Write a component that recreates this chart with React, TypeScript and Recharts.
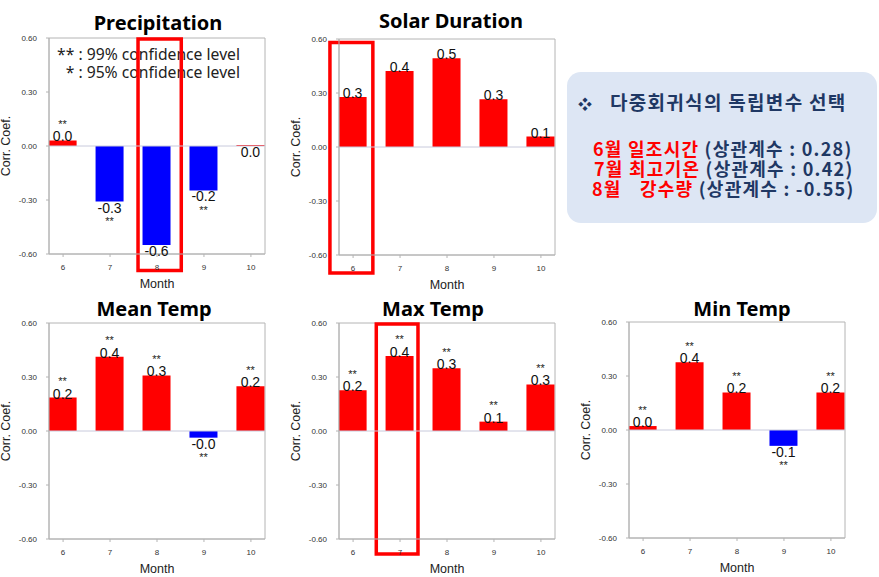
import React from "react";
import {
  BarChart,
  Bar,
  XAxis,
  YAxis,
  Cell,
  LabelList,
  ReferenceLine,
  ReferenceArea,
} from "recharts";

const months = [6, 7, 8, 9, 10];
const yTicks = [-0.6, -0.3, 0, 0.3, 0.6];

const precipitation = [0.031, -0.309, -0.55, -0.247, 0.006];
const precipitationSig = ["**", "**", "", "**", ""];
const solarDuration = [0.278, 0.422, 0.493, 0.265, 0.058];
const solarDurationSig = ["", "", "", "", ""];
const meanTemp = [0.186, 0.412, 0.309, -0.037, 0.248];
const meanTempSig = ["**", "**", "**", "**", "**"];
const maxTemp = [0.227, 0.417, 0.348, 0.052, 0.259];
const maxTempSig = ["**", "**", "**", "**", "**"];
const minTemp = [0.022, 0.376, 0.209, -0.088, 0.209];
const minTempSig = ["**", "**", "**", "**", "**"];

const RED = "#ff0000";
const BLUE = "#0000ff";
const NAVY = "#1f3864";

function fmt(v: number) {
  const r = (Math.round(Math.abs(v) * 10) / 10).toFixed(1);
  return v < 0 ? "-" + r : r;
}

function renderValueLabel(p: any, sig: string[]) {
  const vb = p.viewBox ?? p;
  const x = Number(vb.x ?? p.x);
  const y = Number(vb.y ?? p.y);
  const w = Number(vb.width ?? p.width);
  const h = Number(vb.height ?? p.height);
  const v = Number(p.value);
  const cx = x + w / 2;
  const top = Math.min(y, y + h);
  const bottom = Math.max(y, y + h);
  const below = v < 0.01;
  const s = sig[p.index] || "";
  return (
    <g key={"lbl" + p.index}>
      <text
        x={cx}
        y={below ? bottom + 11 : top + 1}
        textAnchor="middle"
        fontSize={14}
        fill="#111"
      >
        {fmt(v)}
      </text>
      {s && (
        <text
          x={cx}
          y={below ? bottom + 23.5 : top - 12.5}
          textAnchor="middle"
          fontSize={11}
          fill="#222"
        >
          {s}
        </text>
      )}
    </g>
  );
}

type Box = { x1: number; x2: number; y1: number; y2: number };

function Panel({
  left,
  top,
  values,
  sig,
  highlight,
}: {
  left: number;
  top: number;
  values: number[];
  sig: string[];
  highlight?: Box;
}) {
  const data = months.map((m, i) => ({ month: m, value: values[i] }));
  return (
    <div style={{ position: "absolute", left, top }}>
      <BarChart
        width={290}
        height={295}
        data={data}
        margin={{ top: 38, right: 25, bottom: 5, left: 0 }}
      >
        <XAxis
          type="number"
          dataKey="month"
          domain={[5.7, 10.3]}
          allowDataOverflow
          ticks={months}
          interval={0}
          tick={{ fontSize: 8, fill: "#333" }}
          tickSize={3}
          tickMargin={7}
          stroke="#b4b4b4"
          height={36}
          label={{
            value: "Month",
            position: "insideBottom",
            offset: 2,
            fontSize: 12.5,
            fill: "#222",
          }}
        />
        <YAxis
          type="number"
          domain={[-0.6, 0.6]}
          allowDataOverflow
          ticks={yTicks}
          interval={0}
          tickFormatter={(v: number) => v.toFixed(2)}
          tick={{ fontSize: 8, fill: "#333" }}
          tickSize={3}
          tickMargin={9}
          stroke="#b4b4b4"
          width={49}
          label={{
            value: "Corr. Coef.",
            angle: -90,
            position: "insideLeft",
            offset: 6,
            fontSize: 12.5,
            fill: "#222",
            style: { textAnchor: "middle" },
          }}
        />
        <ReferenceArea
          x1={5.7}
          x2={10.3}
          y1={-0.6}
          y2={0.6}
          fill="none"
          stroke="#b4b4b4"
          fillOpacity={0}
        />
        <ReferenceLine y={0} stroke="#c8cadc" />
        <Bar dataKey="value" barSize={28} isAnimationActive={false}>
          {data.map((d, i) => (
            <Cell key={i} fill={d.value >= 0 ? RED : BLUE} />
          ))}
          <LabelList
            dataKey="value"
            content={(p: any) => renderValueLabel(p, sig)}
          />
        </Bar>
        {highlight && (
          <ReferenceArea
            x1={highlight.x1}
            x2={highlight.x2}
            y1={highlight.y1}
            y2={highlight.y2}
            ifOverflow="visible"
            fill="none"
            fillOpacity={0}
            stroke={RED}
            strokeWidth={3.5}
          />
        )}
      </BarChart>
    </div>
  );
}

export default function App() {
  const titleStyle = {
    fontFamily: "'Noto Sans', sans-serif",
    fontWeight: 700,
    fontSize: 20,
  } as const;
  const kr = "'Noto Sans CJK KR', sans-serif";
  return (
    <div
      style={{
        position: "absolute",
        left: 0,
        top: 0,
        width: 879,
        height: 577,
        background: "#fff",
        fontFamily: "'Liberation Sans', Arial, sans-serif",
        overflow: "hidden",
      }}
    >
      <svg
        width={879}
        height={577}
        style={{ position: "absolute", left: 0, top: 0 }}
      >
        <text x={158} y={30} textAnchor="middle" style={titleStyle}>
          Precipitation
        </text>
        <text x={451} y={28} textAnchor="middle" style={titleStyle}>
          Solar Duration
        </text>
        <text x={154} y={316} textAnchor="middle" style={titleStyle}>
          Mean Temp
        </text>
        <text x={433} y={316} textAnchor="middle" style={titleStyle}>
          Max Temp
        </text>
        <text x={742} y={316} textAnchor="middle" style={titleStyle}>
          Min Temp
        </text>
        <g fontFamily="'Noto Sans', sans-serif" fontSize={15.7} fill="#222">
          <text x={240} y={60} textAnchor="end">
            ** : 99% confidence level
          </text>
          <text x={240} y={78} textAnchor="end">
            * : 95% confidence level
          </text>
        </g>
        <rect x={567} y={72} width={310} height={151} rx={14} fill="#dde6f4" />
        <g fontFamily={kr} fontWeight={700}>
          <text x={585} y={109} textAnchor="middle" fontSize={14} fill={NAVY}>
            ❖
          </text>
          <text
            x={610}
            y={110}
            fontSize={19}
            letterSpacing={1.3}
            fill={NAVY}
          >
            다중회귀식의 독립변수 선택
          </text>
          <text x={593} y={156} fontSize={18} letterSpacing={1.25}>
            <tspan fill={RED}>6월 일조시간</tspan>
            <tspan fill={NAVY}> (상관계수 : 0.28)</tspan>
          </text>
          <text x={594} y={176} fontSize={18} letterSpacing={1.25}>
            <tspan fill={RED}>7월 최고기온</tspan>
            <tspan fill={NAVY}> (상관계수 : 0.42)</tspan>
          </text>
          <text x={592} y={196} fontSize={18} letterSpacing={1.25}>
            <tspan fill={RED}>8월</tspan>
            <tspan x={640} fill={RED}>
              강수량
            </tspan>
            <tspan fill={NAVY}> (상관계수 : -0.55)</tspan>
          </text>
        </g>
      </svg>
      <Panel
        left={0}
        top={0}
        values={precipitation}
        sig={precipitationSig}
        highlight={{ x1: 7.596, x2: 8.517, y1: 0.594, y2: -0.692 }}
      />
      <Panel
        left={290}
        top={1}
        values={solarDuration}
        sig={solarDurationSig}
        highlight={{ x1: 5.507, x2: 6.421, y1: 0.58, y2: -0.7 }}
      />
      <Panel left={0} top={285} values={meanTemp} sig={meanTempSig} />
      <Panel
        left={290}
        top={285}
        values={maxTemp}
        sig={maxTempSig}
        highlight={{ x1: 6.494, x2: 7.382, y1: 0.594, y2: -0.683 }}
      />
      <Panel left={580} top={284} values={minTemp} sig={minTempSig} />
    </div>
  );
}
